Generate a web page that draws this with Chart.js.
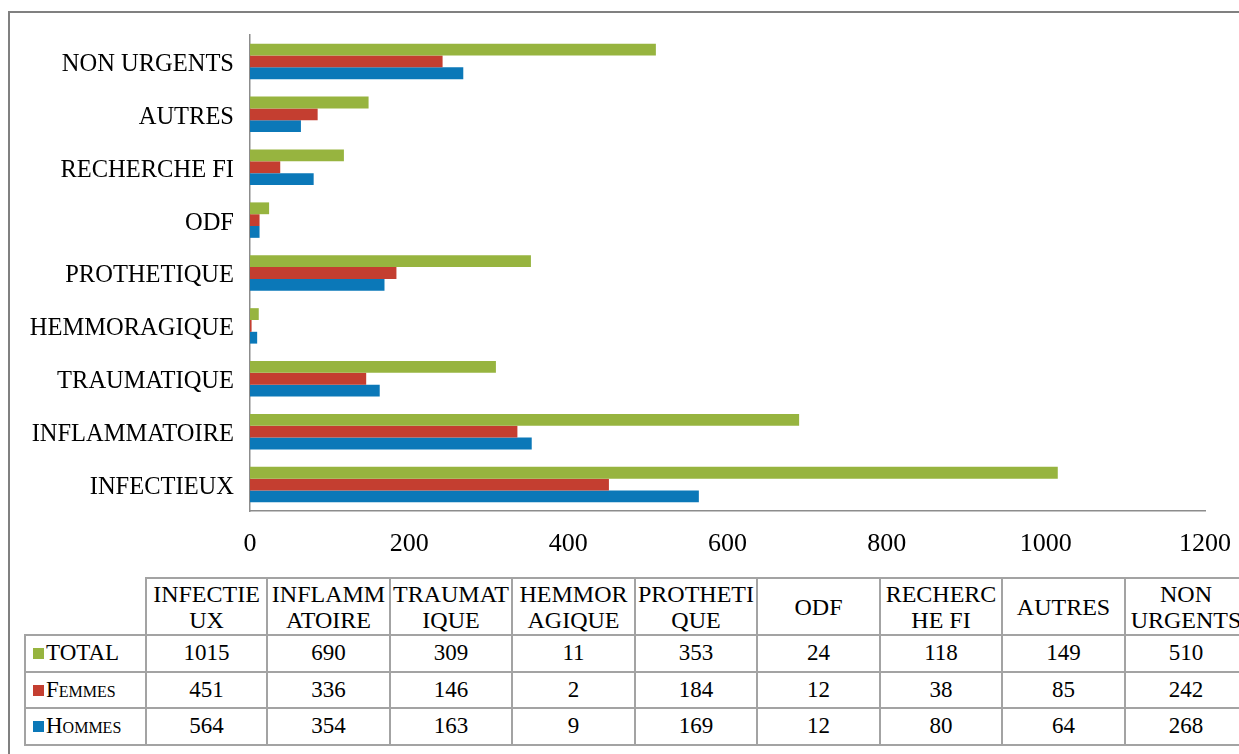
<!DOCTYPE html>
<html>
<head>
<meta charset="utf-8">
<script src="https://cdn.jsdelivr.net/npm/chart.js"></script>
<style>
  body { margin: 0; width: 1239px; height: 754px; overflow: hidden; background: #fff; position: relative; font-family: 'Liberation Serif', serif; }
  #frame { position: absolute; left: 8px; top: 11px; width: 1300px; height: 800px; border: 2px solid #808080; }
  #chart-box { position: absolute; left: 0; top: 0; width: 1239px; height: 575px; }
  #data-table { position: absolute; left: 24px; top: 577px; width: 1222px; border-collapse: collapse; table-layout: fixed; color: #000; }
  #data-table td, #data-table th { border: 2px solid #a3a3a3; padding: 0; text-align: center; vertical-align: middle; font-weight: normal; }
  #data-table th { font-size: 24px; line-height: 26px; height: 55px; overflow-wrap: anywhere; }
  #data-table td { font-size: 23px; height: 34.5px; }
  #data-table th.corner { border-top: none; border-left: none; }
  #data-table td.serie { text-align: left; padding-left: 7px; font-variant: small-caps; white-space: nowrap; }
  .swatch { display: inline-block; width: 11px; height: 11px; margin-right: 2px; vertical-align: 1px; }
</style>
</head>
<body>
<div id="frame"></div>
<div id="chart-box"><canvas id="chart"></canvas></div>
<table id="data-table"></table>
<script>
const categories = ['INFECTIEUX', 'INFLAMMATOIRE', 'TRAUMATIQUE', 'HEMMORAGIQUE', 'PROTHETIQUE', 'ODF', 'RECHERCHE FI', 'AUTRES', 'NON URGENTS'];
const seriesNames = ['TOTAL', 'Femmes', 'Hommes'];
const totalValues = [1015, 690, 309, 11, 353, 24, 118, 149, 510];
const femmesValues = [451, 336, 146, 2, 184, 12, 38, 85, 242];
const hommesValues = [564, 354, 163, 9, 169, 12, 80, 64, 268];
const xTicks = [0, 200, 400, 600, 800, 1000, 1200];

const colors = ['#97b43f', '#c43e30', '#0b78b8'];
const seriesValues = [totalValues, femmesValues, hommesValues];
const serif = "'Liberation Serif', serif";

// the chart lists categories from top (last) to bottom (first)
const rev = arr => arr.slice().reverse();

new Chart(document.getElementById('chart'), {
  type: 'bar',
  data: {
    labels: rev(categories),
    datasets: seriesNames.map((name, i) => ({
      label: name,
      data: rev(seriesValues[i]),
      backgroundColor: colors[i],
      categoryPercentage: 0.67,
      barPercentage: 1.0
    }))
  },
  options: {
    indexAxis: 'y',
    responsive: true,
    maintainAspectRatio: false,
    animation: false,
    layout: { padding: { top: 35, right: 34, left: 0, bottom: 0 } },
    plugins: { legend: { display: false }, tooltip: { enabled: false } },
    scales: {
      x: {
        min: 0,
        max: 1200,
        afterBuildTicks: scale => { scale.ticks = xTicks.map(v => ({ value: v })); },
        afterFit: scale => { scale.height = 64; scale.paddingLeft = 0; scale.paddingRight = 0; },
        grid: { display: false, drawTicks: false },
        border: { display: true, color: '#8c8c8c', width: 1.5 },
        ticks: { padding: 18, color: '#000', font: { family: serif, size: 26 }, maxRotation: 0, callback: v => String(v) }
      },
      y: {
        afterFit: scale => { scale.width = 250; },
        grid: { display: false, drawTicks: false },
        border: { display: true, color: '#8c8c8c', width: 1.5 },
        ticks: { padding: 16, labelOffset: 3, color: '#000', font: { family: serif, size: 24.5 } }
      }
    }
  }
});

// data table under the chart
const table = document.getElementById('data-table');
const colWidths = [121, 121, 123, 122, 123, 122, 123, 122, 123, 122];
let html = '<colgroup>' + colWidths.map(w => `<col style="width:${w}px">`).join('') + '</colgroup>';
html += '<tr><th class="corner"></th>' + categories.map(c => `<th>${c}</th>`).join('') + '</tr>';
seriesNames.forEach((name, i) => {
  html += `<tr><td class="serie"><span class="swatch" style="background:${colors[i]}"></span>${name}</td>`;
  html += seriesValues[i].map(v => `<td>${v}</td>`).join('') + '</tr>';
});
table.innerHTML = html;
</script>
</body>
</html>
